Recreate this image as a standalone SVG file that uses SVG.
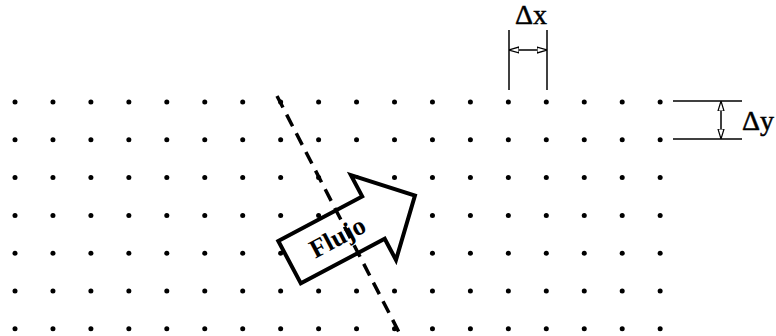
<svg xmlns="http://www.w3.org/2000/svg" width="776" height="336" viewBox="0 0 776 336">
<style>
.dot{fill:#000}
.dim{stroke:#000;stroke-width:1.5;fill:none}
.lbl{font-family:"Liberation Serif","Times New Roman",serif;font-size:28px;fill:#000;stroke:#000;stroke-width:0.5}
</style>
<defs>
<circle id="d" r="2.5" class="dot"/>
<marker id="open" viewBox="0 0 10 8" refX="10" refY="4" markerWidth="10" markerHeight="8" markerUnits="userSpaceOnUse" orient="auto-start-reverse">
<path d="M0,1 L10,4 L0,7 z" fill="#fff" stroke="#000" stroke-width="1.2"/>
</marker>
</defs>
<rect width="776" height="336" fill="#fff"/>
<g id="grid">
<g id="row0" transform="translate(0,102)">
<use href="#d" x="15"/><use href="#d" x="52.95"/><use href="#d" x="90.9"/><use href="#d" x="128.85"/><use href="#d" x="166.8"/><use href="#d" x="204.75"/><use href="#d" x="242.7"/><use href="#d" x="280.65"/><use href="#d" x="318.6"/><use href="#d" x="356.55"/><use href="#d" x="394.5"/><use href="#d" x="432.45"/><use href="#d" x="470.4"/><use href="#d" x="508.35"/><use href="#d" x="546.3"/><use href="#d" x="584.25"/><use href="#d" x="622.2"/><use href="#d" x="660.15"/>
</g>
<use href="#row0" y="37.8"/>
<use href="#row0" y="75.6"/>
<use href="#row0" y="113.4"/>
<use href="#row0" y="151.2"/>
<use href="#row0" y="189"/>
<use href="#row0" y="226.8"/>
</g>
<g id="flujo" transform="translate(278.3,241) rotate(-28)">
<path d="M0,0 L95,0 L95,-24 L142,24 L95,72 L95,48 L0,48 Z" fill="#fff" stroke="#000" stroke-width="4" stroke-linejoin="miter"/>
<text x="54" y="33" text-anchor="middle" style="font-family:'Liberation Serif','Times New Roman',serif;font-size:26px;font-weight:bold">Flujo</text>
</g>
<g id="connectors">
<line id="cut" x1="277" y1="96" x2="402" y2="338" stroke="#000" stroke-width="3.5" stroke-dasharray="13 8"/>
</g>
<g id="dx">
<line class="dim" x1="509" y1="30" x2="509" y2="90"/>
<line class="dim" x1="547" y1="30" x2="547" y2="90"/>
<line class="dim" x1="509" y1="50" x2="547" y2="50" marker-start="url(#open)" marker-end="url(#open)"/>
<text class="lbl" x="531" y="24" text-anchor="middle">Δx</text>
</g>
<g id="dy">
<line class="dim" x1="673" y1="101" x2="742" y2="101"/>
<line class="dim" x1="673" y1="139" x2="742" y2="139"/>
<line class="dim" x1="721" y1="101" x2="721" y2="139" marker-start="url(#open)" marker-end="url(#open)"/>
<text class="lbl" x="742" y="130">Δy</text>
</g>
</svg>
